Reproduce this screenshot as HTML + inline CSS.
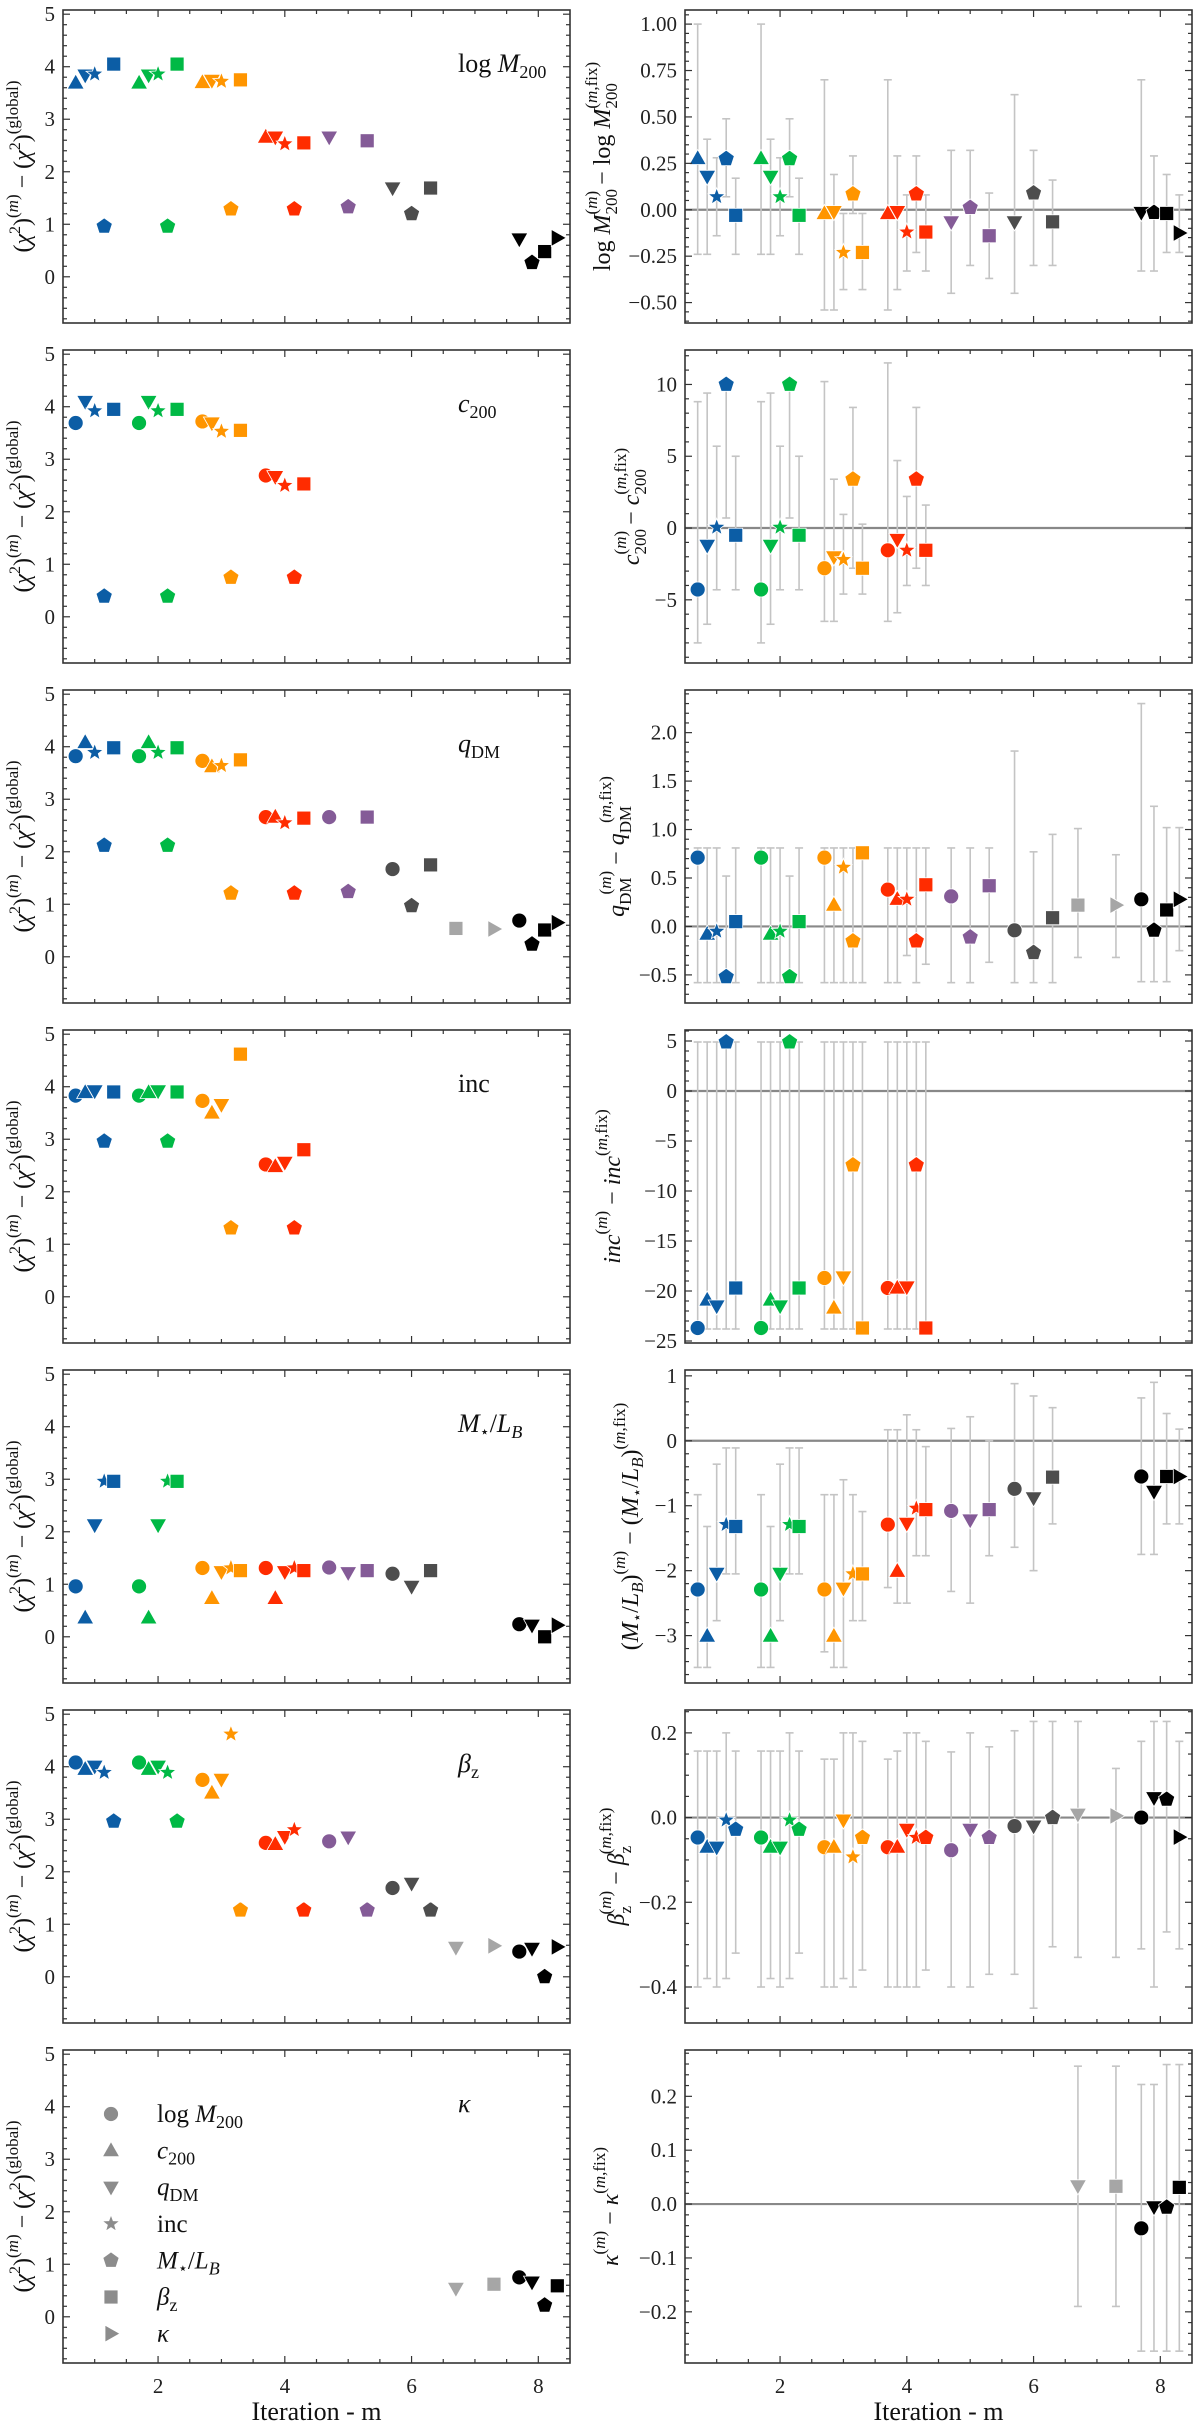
<!DOCTYPE html>
<html><head><meta charset="utf-8">
<style>
html,body{margin:0;padding:0;background:#fff;}
svg{display:block;font-family:"Liberation Serif",serif;}
</style></head>
<body>
<svg id="fig" width="1200" height="2430" viewBox="0 0 1200 2430" xmlns="http://www.w3.org/2000/svg"></svg>
<script>
// ---- data: [m, param, chi2diff, delta, errLo, errHi]
// params: 0 logM200(circle) 1 c200(triangle) 2 qDM(down-tri) 3 inc(star) 4 M*/LB(pentagon) 5 beta_z(square) 6 kappa(right-tri)
const rowLogM = [
 [1,1,3.69,0.276,-0.24,1.00],[1,2,3.84,0.18,-0.24,0.38],[1,3,3.86,0.07,-0.14,0.28],[1,4,0.96,0.275,0.07,0.49],[1,5,4.05,-0.03,-0.24,0.17],
 [2,1,3.69,0.276,-0.24,1.00],[2,2,3.84,0.18,-0.24,0.38],[2,3,3.86,0.07,-0.14,0.28],[2,4,0.96,0.275,0.07,0.49],[2,5,4.05,-0.03,-0.24,0.17],
 [3,1,3.70,-0.02,-0.54,0.70],[3,2,3.74,-0.01,-0.54,0.19],[3,3,3.72,-0.23,-0.43,-0.02],[3,4,1.29,0.085,-0.02,0.29],[3,5,3.75,-0.23,-0.43,-0.02],
 [4,1,2.66,-0.02,-0.54,0.70],[4,2,2.66,-0.01,-0.43,0.29],[4,3,2.53,-0.12,-0.33,0.08],[4,4,1.29,0.085,-0.23,0.29],[4,5,2.55,-0.12,-0.33,0.08],
 [5,2,2.66,-0.065,-0.45,0.32],[5,4,1.33,0.012,-0.30,0.32],[5,5,2.59,-0.14,-0.37,0.09],
 [6,2,1.69,-0.065,-0.45,0.62],[6,4,1.20,0.09,-0.30,0.32],[6,5,1.69,-0.065,-0.30,0.16],
 [8,2,0.72,-0.015,-0.33,0.70],[8,4,0.27,-0.015,-0.33,0.29],[8,5,0.48,-0.02,-0.23,0.19],[8,6,0.74,-0.125,-0.23,0.08]
];
const rowC200 = [
 [1,0,3.69,-4.28,-8.0,8.8],[1,2,4.10,-1.2,-6.7,9.4],[1,3,3.92,0.05,-4.3,5.7],[1,4,0.39,10,0.7,10],[1,5,3.95,-0.5,-4.3,5.0],
 [2,0,3.69,-4.28,-8.0,8.8],[2,2,4.10,-1.2,-6.7,9.4],[2,3,3.92,0.05,-4.3,5.7],[2,4,0.39,10,0.7,10],[2,5,3.95,-0.5,-4.3,5.0],
 [3,0,3.72,-2.8,-6.5,10.2],[3,2,3.69,-2.0,-6.5,3.4],[3,3,3.53,-2.2,-4.6,0.95],[3,4,0.75,3.4,-2.8,8.4],[3,5,3.55,-2.8,-4.6,0.27],
 [4,0,2.69,-1.55,-6.5,11.5],[4,2,2.67,-0.8,-5.9,4.7],[4,3,2.50,-1.55,-4.0,2.2],[4,4,0.75,3.4,-2.8,8.4],[4,5,2.53,-1.55,-4.0,1.6]
];
const rowQDM = [
 [1,0,3.82,0.71,-0.58,0.81],[1,1,4.08,-0.08,-0.58,0.81],[1,3,3.89,-0.05,-0.58,0.81],[1,4,2.12,-0.52,-0.58,0.52],[1,5,3.98,0.05,-0.58,0.81],
 [2,0,3.82,0.71,-0.58,0.81],[2,1,4.08,-0.08,-0.58,0.81],[2,3,3.89,-0.05,-0.58,0.81],[2,4,2.12,-0.52,-0.58,0.52],[2,5,3.98,0.05,-0.58,0.81],
 [3,0,3.73,0.71,-0.58,0.81],[3,1,3.62,0.22,-0.58,0.81],[3,3,3.64,0.61,-0.58,0.81],[3,4,1.21,-0.15,-0.58,0.81],[3,5,3.75,0.76,-0.58,0.81],
 [4,0,2.66,0.38,-0.58,0.81],[4,1,2.66,0.28,-0.58,0.81],[4,3,2.55,0.28,-0.30,0.81],[4,4,1.21,-0.15,-0.58,0.81],[4,5,2.64,0.43,-0.39,0.81],
 [5,0,2.66,0.31,-0.58,0.81],[5,4,1.24,-0.11,-0.58,0.81],[5,5,2.66,0.42,-0.37,0.81],
 [6,0,1.67,-0.04,-0.58,1.81],[6,4,0.97,-0.27,-0.58,0.77],[6,5,1.75,0.09,-0.58,0.95],
 [7,5,0.54,0.22,-0.32,1.01],[7,6,0.53,0.22,-0.32,0.74],
 [8,0,0.69,0.28,-0.57,2.3],[8,4,0.24,-0.04,-0.57,1.24],[8,5,0.51,0.17,-0.57,1.02],[8,6,0.65,0.28,-0.25,1.02]
];
const rowInc = [
 [1,0,3.83,-23.7,-23.8,4.9],[1,1,3.89,-20.9,-23.8,4.9],[1,2,3.92,-21.5,-23.8,4.9],[1,4,2.96,4.9,-23.8,4.9],[1,5,3.90,-19.7,-23.8,4.9],
 [2,0,3.83,-23.7,-23.8,4.9],[2,1,3.89,-20.9,-23.8,4.9],[2,2,3.92,-21.5,-23.8,4.9],[2,4,2.96,4.9,-23.8,4.9],[2,5,3.90,-19.7,-23.8,4.9],
 [3,0,3.73,-18.7,-23.8,4.9],[3,1,3.50,-21.7,-23.8,4.9],[3,2,3.66,-18.6,-23.8,4.9],[3,4,1.31,-7.4,-23.8,4.9],[3,5,4.62,-23.7,-23.8,4.9],
 [4,0,2.52,-19.7,-23.8,4.9],[4,1,2.48,-19.7,-23.8,4.9],[4,2,2.56,-19.6,-23.8,4.9],[4,4,1.31,-7.4,-23.8,4.9],[4,5,2.80,-23.7,-23.8,4.9]
];
const rowML = [
 [1,0,0.96,-2.29,-3.49,-0.83],[1,1,0.36,-3.01,-3.49,-1.32],[1,2,2.13,-2.04,-2.77,-0.36],[1,3,2.96,-1.29,-2.05,-0.11],[1,5,2.96,-1.32,-2.05,-0.11],
 [2,0,0.96,-2.29,-3.49,-0.83],[2,1,0.36,-3.01,-3.49,-1.32],[2,2,2.13,-2.04,-2.77,-0.36],[2,3,2.96,-1.29,-2.05,-0.11],[2,5,2.96,-1.32,-2.05,-0.11],
 [3,0,1.31,-2.29,-3.25,-0.83],[3,1,0.73,-3.01,-3.49,-0.83],[3,2,1.24,-2.27,-3.49,-0.6],[3,3,1.31,-2.05,-2.77,-0.83],[3,5,1.26,-2.05,-2.77,-1.09],
 [4,0,1.31,-1.29,-2.26,0.17],[4,1,0.73,-2.01,-2.5,0.17],[4,2,1.24,-1.27,-2.5,0.4],[4,3,1.31,-1.04,-1.77,0.17],[4,5,1.26,-1.06,-1.77,-0.09],
 [5,0,1.32,-1.08,-2.32,0.19],[5,2,1.22,-1.22,-2.5,0.37],[5,5,1.26,-1.06,-1.77,0.0],
 [6,0,1.20,-0.74,-1.64,0.88],[6,2,0.96,-0.88,-2.0,0.69],[6,5,1.26,-0.56,-1.28,0.51],
 [8,0,0.24,-0.55,-1.75,0.66],[8,2,0.22,-0.78,-1.75,0.9],[8,5,0.0,-0.55,-1.28,0.42],[8,6,0.22,-0.55,-1.28,0.18]
];
const rowBeta = [
 [1,0,4.08,-0.047,-0.40,0.157],[1,1,3.95,-0.07,-0.38,0.157],[1,2,4.01,-0.07,-0.40,0.157],[1,3,3.89,-0.006,-0.38,0.2],[1,4,2.96,-0.028,-0.32,0.157],
 [2,0,4.08,-0.047,-0.40,0.157],[2,1,3.95,-0.07,-0.38,0.157],[2,2,4.01,-0.07,-0.40,0.157],[2,3,3.89,-0.006,-0.38,0.2],[2,4,2.96,-0.028,-0.32,0.157],
 [3,0,3.75,-0.07,-0.40,0.138],[3,1,3.50,-0.07,-0.40,0.138],[3,2,3.76,-0.006,-0.38,0.2],[3,3,4.62,-0.093,-0.40,0.2],[3,4,1.27,-0.047,-0.36,0.18],
 [4,0,2.55,-0.07,-0.40,0.138],[4,1,2.52,-0.07,-0.40,0.157],[4,2,2.67,-0.028,-0.40,0.2],[4,3,2.80,-0.047,-0.40,0.2],[4,4,1.27,-0.047,-0.36,0.18],
 [5,0,2.58,-0.077,-0.40,0.155],[5,2,2.66,-0.028,-0.40,0.2],[5,4,1.27,-0.047,-0.37,0.167],
 [6,0,1.69,-0.02,-0.37,0.205],[6,2,1.78,-0.02,-0.45,0.227],[6,4,1.27,0.0,-0.305,0.227],
 [7,2,0.56,0.008,-0.33,0.227],[7,6,0.59,0.004,-0.33,0.116],
 [8,0,0.48,0.0,-0.31,0.18],[8,2,0.54,0.047,-0.40,0.227],[8,4,0.0,0.043,-0.27,0.227],[8,6,0.57,-0.046,-0.31,0.18]
];
const rowKappa = [
 [7,2,0.54,0.034,-0.19,0.256],[7,5,0.62,0.033,-0.19,0.256],
 [8,0,0.75,-0.045,-0.273,0.222],[8,2,0.66,-0.005,-0.273,0.222],[8,4,0.22,-0.006,-0.273,0.259],[8,5,0.59,0.031,-0.273,0.259]
];
// right-axis ranges & ticks
const rightRanges = [[-0.61,1.076],[-9.4,12.4],[-0.79,2.44],[-25.2,6.1],[-3.73,1.09],[-0.485,0.254],[-0.295,0.286]];
const rightMajor = [0.25,5,0.5,5,1,0.2,0.1];
const rightMinor = [0.05,1,0.1,1,0.2,0.05,0.02];
const rightDecimals = [2,0,1,0,0,1,1];
const leftRange = [-0.88,5.08];
const xRange = [0.5,8.5];
const xMajorTicks = [2,4,6,8];
const iterColors = ['', '#0C5DA5','#00B945','#FF9500','#FF2C00','#845B97','#4d4d4d','#a6a6a6','#000000'];
const paramNames = ['log-m200','c200','q-dm','inc','m-star-lb','beta-z','kappa'];

const svg = document.getElementById('fig');
const NS = 'http://www.w3.org/2000/svg';
function el(tag, attrs, parent){ const e=document.createElementNS(NS,tag); for(const k in attrs) e.setAttribute(k,attrs[k]); (parent||svg).appendChild(e); return e; }

const LX=63, RX=685, PW=507, PH=313, TOP0=10, PITCH=340;
const rows = [rowLogM,rowC200,rowQDM,rowInc,rowML,rowBeta,rowKappa];

function xScale(x0){ return v => x0 + (v - xRange[0])/(xRange[1]-xRange[0])*PW; }
function yScale(y0, r){ return v => y0 + (r[1]-v)/(r[1]-r[0])*PH; }

function marker(g, type, cx, cy, color, name){
  let e; const st = {fill:color, stroke:'#fff','stroke-width':0.8};
  if(type===0){ e=el('circle',Object.assign({cx:cx,cy:cy,r:7.5},st),g); }
  else if(type===5){ e=el('rect',Object.assign({x:cx-7,y:cy-7,width:14,height:14},st),g); }
  else {
    let pts=[];
    if(type===1) pts=[[0,-9],[8.5,6],[-8.5,6]];
    else if(type===2) pts=[[0,9],[8.5,-6],[-8.5,-6]];
    else if(type===6) pts=[[9,0],[-6,-8.5],[-6,8.5]];
    else if(type===4){ for(let k=0;k<5;k++){const a=-Math.PI/2+k*2*Math.PI/5; pts.push([8.5*Math.cos(a),8.5*Math.sin(a)]);} }
    else if(type===3){ for(let k=0;k<10;k++){const a=-Math.PI/2+k*Math.PI/5; const r=k%2?3.8:9; pts.push([r*Math.cos(a),r*Math.sin(a)]);} }
    e=el('polygon',Object.assign({points:pts.map(p=>(cx+p[0]).toFixed(1)+','+(cy+p[1]).toFixed(1)).join(' ')},st),g);
  }
  
  
  return e;
}

function frame(g, x0, y0, r, major, minor, decimals, showX, side){
  const ys = yScale(y0, r), xs = xScale(x0);
  const eps=1e-9;
  for(let v=Math.ceil(r[0]/minor-eps)*minor; v<=r[1]+eps; v+=minor){
    const y=ys(v); const isMaj=Math.abs(v/major-Math.round(v/major))<1e-6; const L=isMaj?7:4;
    el('line',{x1:x0,y1:y,x2:x0+L,y2:y,stroke:'#333','stroke-width':1.2},g);
    el('line',{x1:x0+PW,y1:y,x2:x0+PW-L,y2:y,stroke:'#333','stroke-width':1.2},g);
    if(isMaj){
      let val=Math.round(v/major)*major; let s=val.toFixed(decimals); if(Math.abs(val)<1e-9) s=(0).toFixed(decimals);
      s=s.replace('-','\u2212');
      const t=el('text',{x:x0-8,y:y+7,'text-anchor':'end','font-size':21,fill:'#222'},g); t.textContent=s;
      
      
    }
  }
  for(let v=1; v<=8+eps; v+=0.5){
    const x=xs(v); const isMaj=xMajorTicks.indexOf(v)>=0; const L=isMaj?7:4;
    el('line',{x1:x,y1:y0+PH,x2:x,y2:y0+PH-L,stroke:'#333','stroke-width':1.2},g);
    el('line',{x1:x,y1:y0,x2:x,y2:y0+L,stroke:'#333','stroke-width':1.2},g);
    if(isMaj && showX){
      const t=el('text',{x:x,y:y0+PH+30,'text-anchor':'middle','font-size':21,fill:'#222'},g); t.textContent=String(v);
      
      
    }
  }
  const f=el('rect',{x:x0,y:y0,width:PW,height:PH,fill:'none',stroke:'#333','stroke-width':1.6},g);
  
  
}

function offsets(data){
  const byM={}; data.forEach((d,i)=>{(byM[d[0]]=byM[d[0]]||[]).push(i);});
  const off=new Array(data.length).fill(0);
  for(const m in byM){ const idx=byM[m]; const n=idx.length; idx.forEach((i,k)=>{ off[i]= n>1 ? -0.3+k*0.6/(n-1) : 0; }); }
  return off;
}

const panelLabels = [
 '<tspan>log </tspan><tspan font-style="italic">M</tspan><tspan font-size="18" dy="6">200</tspan>',
 '<tspan font-style="italic">c</tspan><tspan font-size="18" dy="6">200</tspan>',
 '<tspan font-style="italic">q</tspan><tspan font-size="18" dy="6">DM</tspan>',
 '<tspan>inc</tspan>',
 '<tspan font-style="italic">M</tspan><tspan font-size="16" dy="5">\u22c6</tspan><tspan dy="-5">/</tspan><tspan font-style="italic">L</tspan><tspan font-size="18" font-style="italic" dy="6">B</tspan>',
 '<tspan font-style="italic">\u03b2</tspan><tspan font-size="18" dy="6">z</tspan>',
 '<tspan font-style="italic">\u03ba</tspan>'
];
function supsub(base, sub, italicBase){
  const b = italicBase ? '<tspan font-style="italic">'+base+'</tspan>' : base;
  let s=b;
  if(sub) s+='<tspan font-size="17" dy="7">'+sub+'</tspan><tspan font-size="17" dy="-20" dx="'+(-sub.length*8.5)+'">(<tspan font-style="italic">m</tspan>)</tspan><tspan dy="13"> \u2212 </tspan>'
           + b + '<tspan font-size="17" dy="7">'+sub+'</tspan><tspan font-size="17" dy="-20" dx="'+(-sub.length*8.5)+'">(<tspan font-style="italic">m</tspan>,fix)</tspan>';
  else s+='<tspan font-size="17" dy="-13">(<tspan font-style="italic">m</tspan>)</tspan><tspan dy="13"> \u2212 </tspan>'+b+'<tspan font-size="17" dy="-13">(<tspan font-style="italic">m</tspan>,fix)</tspan>';
  return s;
}
const rightLabels = [
 supsub('log <tspan font-style="italic">M</tspan>','200',false),
 supsub('c','200',true),
 supsub('q','DM',true),
 supsub('inc',null,true),
 supsub('(<tspan font-style="italic">M</tspan><tspan font-size="15" dy="4">\u22c6</tspan><tspan dy="-4">/</tspan><tspan font-style="italic">L</tspan><tspan font-size="17" font-style="italic" dy="5">B</tspan><tspan dy="-5">)</tspan>',null,false),
 supsub('\u03b2','z',true),
 supsub('\u03ba',null,true)
];
const rightLabelX = [602,631,616,612,630,616,610];
const rowNames = ['log-m200','c200','q-dm','inc','m-star-lb','beta-z','kappa'];

rows.forEach((data, ri)=>{
  const y0 = TOP0 + ri*PITCH;
  const last = ri===6;
  const gl = el('g',{});
  
  
  frame(gl, LX, y0, leftRange, 1, 0.2, 0, last, 'left');
  const xsL = xScale(LX), ysL = yScale(y0, leftRange);
  const off = offsets(data);
  data.forEach((d,i)=>{ marker(gl, d[1], xsL(d[0]+off[i]), ysL(d[2]), iterColors[d[0]], 'chi2-point-'+paramNames[d[1]]+'-m'+d[0]); });
  const lab = el('text',{x:458,y:y0+62,'font-size':26,fill:'#111'},gl); lab.innerHTML = panelLabels[ri];
  
  
  const yl = el('text',{x:0,y:0,'font-size':24,'text-anchor':'middle',fill:'#111',transform:'translate(30,'+(y0+PH/2)+') rotate(-90)'},gl);
  yl.innerHTML='(<tspan font-style="italic">\u03c7</tspan><tspan font-size="16" dy="-10">2</tspan><tspan dy="10">)</tspan><tspan font-size="17" dy="-12">(<tspan font-style="italic">m</tspan>)</tspan><tspan dy="12"> \u2212 (</tspan><tspan font-style="italic">\u03c7</tspan><tspan font-size="16" dy="-10">2</tspan><tspan dy="10">)</tspan><tspan font-size="17" dy="-12">(global)</tspan>';
  
  

  const gr = el('g',{});
  
  
  const rr = rightRanges[ri];
  const xsR = xScale(RX), ysR = yScale(y0, rr);
  const zl = el('line',{x1:RX,x2:RX+PW,y1:ysR(0),y2:ysR(0),stroke:'#888','stroke-width':2.2},gr);
  
  
  data.forEach((d,i)=>{
    const x=xsR(d[0]+off[i]);
    const eb=el('g',{stroke:'#c4c4c4','stroke-width':1.6},gr);
    
    
    el('line',{x1:x,x2:x,y1:ysR(d[4]),y2:ysR(d[5])},eb);
    el('line',{x1:x-4,x2:x+4,y1:ysR(d[4]),y2:ysR(d[4])},eb);
    el('line',{x1:x-4,x2:x+4,y1:ysR(d[5]),y2:ysR(d[5])},eb);
  });
  data.forEach((d,i)=>{ marker(gr, d[1], xsR(d[0]+off[i]), ysR(d[3]), iterColors[d[0]], 'delta-point-'+paramNames[d[1]]+'-m'+d[0]); });
  frame(gr, RX, y0, rr, rightMajor[ri], rightMinor[ri], rightDecimals[ri], last, 'right');
  const ry = el('text',{x:0,y:0,'font-size':24,'text-anchor':'middle',fill:'#111',transform:'translate('+(rightLabelX[ri]+8)+','+(y0+PH/2)+') rotate(-90)'},gr);
  ry.innerHTML = rightLabels[ri];
  
  
});

[LX, RX].forEach((x0,k)=>{
  const t=el('text',{x:x0+PW/2,y:2420,'text-anchor':'middle','font-size':26,fill:'#111'});
  t.textContent='Iteration - m';
  
  
});

const legendLabels = [
 '<tspan>log </tspan><tspan font-style="italic">M</tspan><tspan font-size="18" dy="6">200</tspan>',
 '<tspan font-style="italic">c</tspan><tspan font-size="18" dy="6">200</tspan>',
 '<tspan font-style="italic">q</tspan><tspan font-size="18" dy="6">DM</tspan>',
 '<tspan>inc</tspan>',
 '<tspan font-style="italic">M</tspan><tspan font-size="16" dy="5">\u22c6</tspan><tspan dy="-5">/</tspan><tspan font-style="italic">L</tspan><tspan font-size="18" font-style="italic" dy="6">B</tspan>',
 '<tspan font-style="italic">\u03b2</tspan><tspan font-size="18" dy="6">z</tspan>',
 '<tspan font-style="italic">\u03ba</tspan>'
];
const lg = el('g',{});


legendLabels.forEach((s,k)=>{
  const y=2114+k*36.6;
  const ge=el('g',{},lg);
  
  
  marker(ge, k, 111, y, '#8c8c8c', 'legend-marker-'+paramNames[k]);
  const t=el('text',{x:157,y:y+8,'font-size':25,fill:'#111'},ge); t.innerHTML=s;
  
  
});
</script>
</body></html>
